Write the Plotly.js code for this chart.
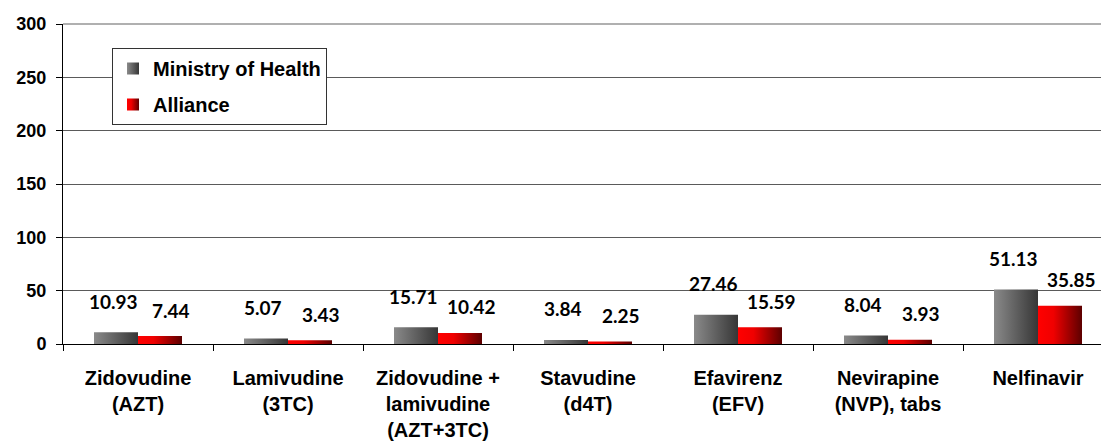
<!DOCTYPE html>
<html>
<head>
<meta charset="utf-8">
<script src="https://cdn.plot.ly/plotly-3.0.1.min.js"></script>
<style>html,body{margin:0;padding:0;background:#fff;}#chart{width:1101px;height:442px;}</style>
</head>
<body>
<div id="chart"></div>
<script>
var categories = ["Zidovudine (AZT)", "Lamivudine (3TC)", "Zidovudine + lamivudine (AZT+3TC)", "Stavudine (d4T)", "Efavirenz (EFV)", "Nevirapine (NVP), tabs", "Nelfinavir"];
var tickLabels = ["Zidovudine<br>(AZT)", "Lamivudine<br>(3TC)", "Zidovudine +<br>lamivudine<br>(AZT+3TC)", "Stavudine<br>(d4T)", "Efavirenz<br>(EFV)", "Nevirapine<br>(NVP), tabs", "Nelfinavir"];
var ministryOfHealth = [10.93, 5.07, 15.71, 3.84, 27.46, 8.04, 51.13];
var alliance = [7.44, 3.43, 10.42, 2.25, 15.59, 3.93, 35.85];
var seriesNames = ["Ministry of Health", "Alliance"];

var bargap = 0.4133;
var half = (1 - bargap) / 4; // offset of each bar centre from category centre

var arial = "Liberation Sans";
var tickFont = {family: arial, size: 18, color: "#000", weight: 700};
var catFont = {family: arial, size: 20, color: "#000", weight: 700};
var labelFont = {family: "Lato", size: 19, color: "#000", weight: 700};

var traces = [
  {type: "bar", name: seriesNames[0], x: categories, y: ministryOfHealth, marker: {color: "#5e5e5e"}, legendgroup: "a", hoverinfo: "none"},
  {type: "bar", name: seriesNames[1], x: categories, y: alliance, marker: {color: "#c00000"}, legendgroup: "b", hoverinfo: "none"}
];

var annotations = [];
ministryOfHealth.forEach(function (v, i) {
  annotations.push({x: i - half, y: v, xref: "x", yref: "y", text: v.toFixed(2), showarrow: false,
    xanchor: "center", yanchor: "middle", xshift: -3, yshift: 31, font: labelFont});
});
alliance.forEach(function (v, i) {
  annotations.push({x: i + half, y: v, xref: "x", yref: "y", text: v.toFixed(2), showarrow: false,
    xanchor: "center", yanchor: "middle", xshift: 11, yshift: 26, font: labelFont});
});

var layout = {
  width: 1101, height: 442,
  margin: {l: 63, r: 0, t: 24, b: 98, pad: 0},
  paper_bgcolor: "#fff", plot_bgcolor: "#fff",
  barmode: "group", bargap: bargap, bargroupgap: 0,
  showlegend: true,
  legend: {x: 0.0472, y: 0.925, xanchor: "left", yanchor: "top", bgcolor: "#fff",
    bordercolor: "#333", borderwidth: 1, font: {family: arial, size: 20, color: "#000", weight: 700},
    traceorder: "grouped", tracegroupgap: 7, itemwidth: 30},
  xaxis: {type: "category", range: [-0.5, 6.42], tickmode: "array", tickvals: categories, ticktext: tickLabels,
    tickson: "boundaries", ticks: "outside", ticklen: 6, tickcolor: "#000", tickwidth: 1,
    showline: true, linecolor: "#000", linewidth: 1, showgrid: false, zeroline: false,
    tickfont: catFont, ticklabelstandoff: 16, fixedrange: true, automargin: false},
  yaxis: {range: [0, 300], dtick: 50, ticks: "outside", ticklen: 6, tickcolor: "#000", tickwidth: 1,
    showline: true, linecolor: "#000", linewidth: 1, showgrid: true, gridcolor: "#5a5a5a", gridwidth: 1,
    zeroline: false, tickfont: tickFont, ticklabelstandoff: 6, fixedrange: true, automargin: false},
  annotations: annotations,
  shapes: [{type: "line", xref: "paper", yref: "paper", x0: 0, x1: 1, y0: 1, y1: 1, line: {color: "#b0b0b0", width: 2}, layer: "above"}]
};

Plotly.newPlot("chart", traces, layout, {displayModeBar: false, staticPlot: true}).then(function (gd) {
  var svg = gd.querySelector("svg.main-svg");
  var ns = "http://www.w3.org/2000/svg";
  var defs = document.createElementNS(ns, "defs");
  function grad(id, stops) {
    var g = document.createElementNS(ns, "linearGradient");
    g.setAttribute("id", id); g.setAttribute("x1", "0"); g.setAttribute("x2", "1"); g.setAttribute("y1", "0"); g.setAttribute("y2", "0");
    stops.forEach(function (s) {
      var st = document.createElementNS(ns, "stop");
      st.setAttribute("offset", s[0]); st.setAttribute("stop-color", s[1]);
      g.appendChild(st);
    });
    defs.appendChild(g);
  }
  grad("gradGray", [["0", "#8a8a8a"], ["1", "#363636"]]);
  grad("gradRed", [["0", "#ff0000"], ["0.35", "#f00000"], ["1", "#5c0000"]]);
  svg.insertBefore(defs, svg.firstChild);
  var ids = ["gradGray", "gradRed"];
  gd.querySelectorAll(".barlayer .trace").forEach(function (t, i) {
    t.querySelectorAll("path").forEach(function (p) { p.style.fill = "url(#" + ids[i] + ")"; });
  });
  gd.querySelectorAll(".legend .traces").forEach(function (t, i) {
    t.querySelectorAll(".legendpoints path").forEach(function (p) { p.style.fill = "url(#" + ids[i] + ")"; p.style.stroke = "none"; });
  });
});
</script>
</body>
</html>
